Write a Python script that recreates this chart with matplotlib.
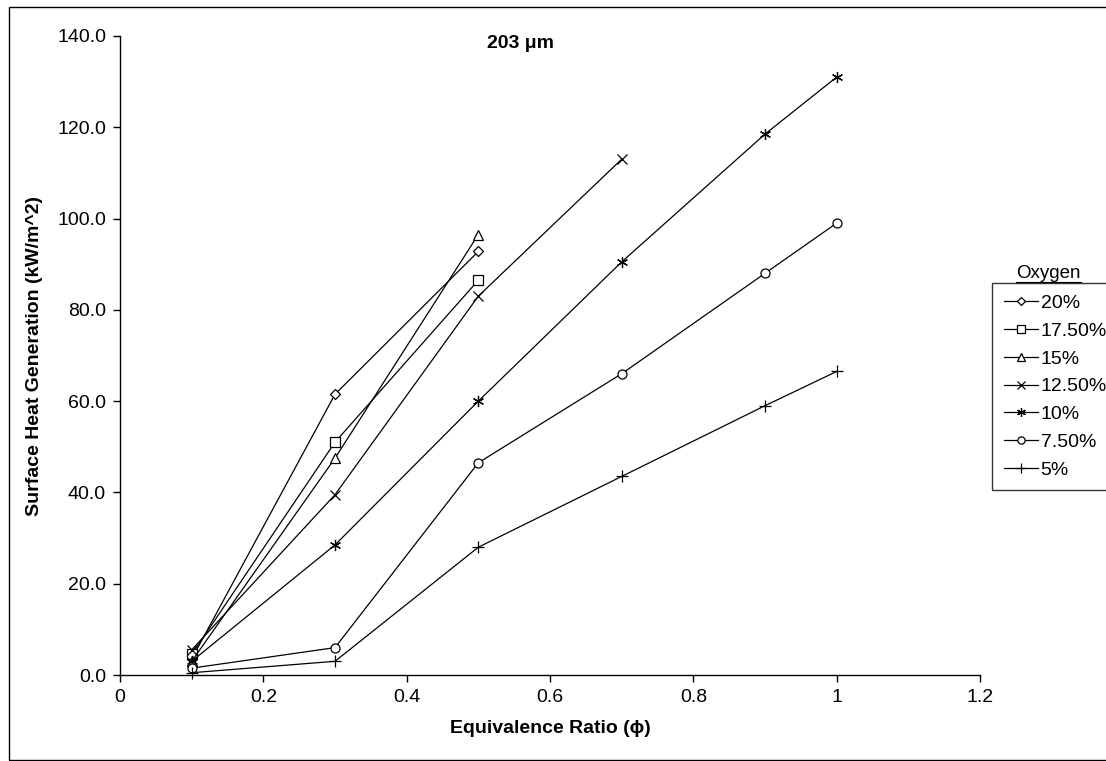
import matplotlib
matplotlib.use("Agg")
import matplotlib.pyplot as plt
from matplotlib.lines import Line2D
from matplotlib.patches import Rectangle

plt.rcParams['font.family'] = ['Liberation Sans', 'DejaVu Sans']

phi = [0.1, 0.3, 0.5, 0.7, 0.9, 1.0]
labels = ["20%", "17.50%", "15%", "12.50%", "10%", "7.50%", "5%"]
o20 = [3.5, 61.5, 92.8]
o175 = [4.5, 51.0, 86.5]
o15 = [3.0, 47.5, 96.5]
o125 = [5.5, 39.5, 83.0, 113.0]
o10 = [3.0, 28.5, 60.0, 90.5, 118.5, 131.0]
o75 = [1.5, 6.0, 46.5, 66.0, 88.0, 99.0]
o5 = [0.5, 3.0, 28.0, 43.5, 59.0, 66.5]
series = [o20, o175, o15, o125, o10, o75, o5]
markers = ['D', 's', '^', 'x', (6, 2, 0), 'o', '+']
msizes = [5.5, 7, 7.5, 7, 8, 6.5, 9]

xticks = [0, 0.2, 0.4, 0.6, 0.8, 1.0, 1.2]
xticklabels = ["0", "0.2", "0.4", "0.6", "0.8", "1", "1.2"]
yticks = [0, 20, 40, 60, 80, 100, 120, 140]

fig = plt.figure(figsize=(11.06, 7.61), dpi=100)
ax = fig.add_axes([120/1106, 1-675/761, 860/1106, 639/761])

handles = []
for vals, lab, m, ms in zip(series, labels, markers, msizes):
    h, = ax.plot(phi[:len(vals)], vals, color='black', lw=0.9, marker=m, ms=ms,
                 mfc='white', mec='black', mew=0.9, label=lab, clip_on=False)
    handles.append(h)

ax.set_xlim(0, 1.2)
ax.set_ylim(0, 140)
ax.set_xticks(xticks)
ax.set_xticklabels(xticklabels)
ax.set_yticks(yticks)
ax.set_yticklabels([f"{v:.1f}" for v in yticks])
for s in ['top', 'right']:
    ax.spines[s].set_visible(False)
for s in ['left', 'bottom']:
    ax.spines[s].set_linewidth(1.0)
ax.tick_params(axis='both', labelsize=14, length=5, width=1, color='black', pad=5)

ax.set_xlabel("Equivalence Ratio (ϕ)", fontsize=14, fontweight='bold', labelpad=10)
ax.set_ylabel("Surface Heat Generation (kW/m^2)", fontsize=14, fontweight='bold', labelpad=10)
ax.text(0.559, 138.3, "203 μm", fontsize=14, fontweight='bold', ha='center', va='center')

leg = fig.legend(handles=handles, loc='upper left',
                 bbox_to_anchor=(992/1106, 1-283/761), fontsize=14,
                 frameon=True, fancybox=False, edgecolor='black',
                 handlelength=1.75, handletextpad=0.15, labelspacing=0.52,
                 borderpad=0.6, borderaxespad=0, markerscale=0.8)
leg.get_frame().set_linewidth(1.0)

fig.text(1048/1106, 1-274/761, "Oxygen", fontsize=13.5, ha='center', va='center')
fig.add_artist(Line2D([1016/1106, 1081/1106], [1-282/761, 1-282/761],
                      color='black', lw=0.8, transform=fig.transFigure))

fig.add_artist(Rectangle((9/1106, 1/761), 1.0, 753/761, transform=fig.transFigure,
                         fill=False, edgecolor='black', lw=1.0))

fig.savefig("out.png", dpi=100)
